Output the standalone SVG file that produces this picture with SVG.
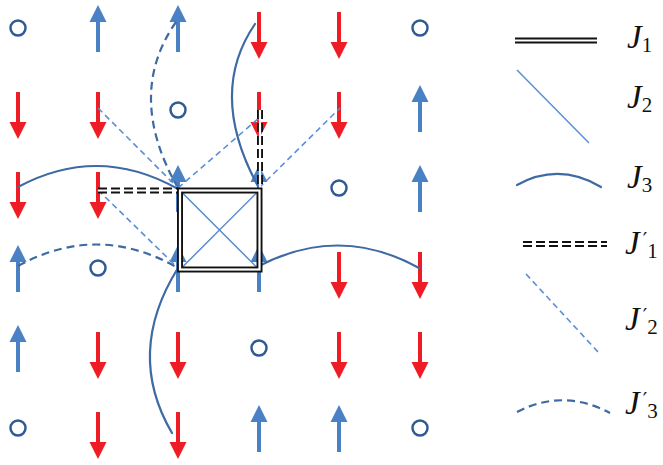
<svg xmlns="http://www.w3.org/2000/svg" width="663" height="465" viewBox="0 0 663 465">
  <style>
    .up { fill: #4a80c4; }
    .dn { fill: #ee1c25; }
    .vac { fill: none; stroke: #2f5a94; stroke-width: 2.5; }
    .j1o { fill: none; stroke: #111; stroke-width: 6; }
    .j1i { fill: none; stroke: #fff; stroke-width: 2.2; }
    .j2 { fill: none; stroke: #5b8fd0; stroke-width: 1.5; }
    .j3 { fill: none; stroke: #3e6aa3; stroke-width: 2.2; stroke-linecap: round; }
    .j1do { fill: none; stroke: #111; stroke-width: 6; stroke-dasharray: 9 4; }
    .j1di { fill: none; stroke: #fff; stroke-width: 2.2; }
    .j2d { fill: none; stroke: #5b8fd6; stroke-width: 1.6; stroke-dasharray: 6 4; }
    .j3d { fill: none; stroke: #3e6aa3; stroke-width: 2.2; stroke-dasharray: 8 5; }
    .lbl { font-family: "Liberation Serif", "DejaVu Serif", serif; font-style: italic; font-size: 33px; fill: #111; }
    .sub { font-style: normal; font-size: 21px; }
    .pr { font-family: "DejaVu Serif", serif; font-style: normal; font-size: 20px; }
  </style>
  <defs>
    <!-- spin up: tip above the site, shaft below -->
    <g id="spinUp" class="up">
      <rect x="-2" y="-7" width="4" height="31"/>
      <polygon points="0,-23 8.5,-6 -8.5,-6"/>
    </g>
    <!-- spin down: shaft above, tip below -->
    <g id="spinDown" class="dn">
      <rect x="-2" y="-16" width="4" height="31"/>
      <polygon points="0,31 8.5,14 -8.5,14"/>
    </g>
    <!-- empty site -->
    <circle id="hole" class="vac" r="7.5"/>
  </defs>

  <rect width="663" height="465" fill="#fff"/>

  <!-- lattice sites: columns 18,98,178,259,339,420; rows 28..428 step 80 -->
  <g id="sites">
    <!-- row 0 -->
    <g id="s00"><use href="#hole" x="18" y="28"/></g>
    <g id="s01"><use href="#spinUp" x="98" y="28"/></g>
    <g id="s02"><use href="#spinUp" x="178" y="28"/></g>
    <g id="s03"><use href="#spinDown" x="259" y="28"/></g>
    <g id="s04"><use href="#spinDown" x="339" y="28"/></g>
    <g id="s05"><use href="#hole" x="420" y="28"/></g>
    <!-- row 1 -->
    <g id="s10"><use href="#spinDown" x="18" y="108"/></g>
    <g id="s11"><use href="#spinDown" x="98" y="108"/></g>
    <g id="s12"><use href="#hole" x="178" y="110"/></g>
    <g id="s13"><use href="#spinDown" x="259" y="108"/></g>
    <g id="s14"><use href="#spinDown" x="339" y="108"/></g>
    <g id="s15"><use href="#spinUp" x="420" y="108"/></g>
    <!-- row 2 -->
    <g id="s20"><use href="#spinDown" x="18" y="188"/></g>
    <g id="s21"><use href="#spinDown" x="98" y="188"/></g>
    <g id="s22"><use href="#spinUp" x="178" y="188"/></g>
    <g id="s23"><use href="#spinUp" x="259" y="188"/></g>
    <g id="s24"><use href="#hole" x="339" y="188"/></g>
    <g id="s25"><use href="#spinUp" x="420" y="188"/></g>
    <!-- row 3 -->
    <g id="s30"><use href="#spinUp" x="18" y="268"/></g>
    <g id="s31"><use href="#hole" x="98" y="268"/></g>
    <g id="s32"><use href="#spinUp" x="178" y="268"/></g>
    <g id="s33"><use href="#spinUp" x="259" y="268"/></g>
    <g id="s34"><use href="#spinDown" x="339" y="268"/></g>
    <g id="s35"><use href="#spinDown" x="420" y="268"/></g>
    <!-- row 4 -->
    <g id="s40"><use href="#spinUp" x="18" y="348"/></g>
    <g id="s41"><use href="#spinDown" x="98" y="348"/></g>
    <g id="s42"><use href="#spinDown" x="178" y="348"/></g>
    <g id="s43"><use href="#hole" x="259" y="348"/></g>
    <g id="s44"><use href="#spinDown" x="339" y="348"/></g>
    <g id="s45"><use href="#spinDown" x="420" y="348"/></g>
    <!-- row 5 -->
    <g id="s50"><use href="#hole" x="18" y="428"/></g>
    <g id="s51"><use href="#spinDown" x="98" y="428"/></g>
    <g id="s52"><use href="#spinDown" x="178" y="428"/></g>
    <g id="s53"><use href="#spinUp" x="259" y="428"/></g>
    <g id="s54"><use href="#spinUp" x="339" y="428"/></g>
    <g id="s55"><use href="#hole" x="420" y="428"/></g>
  </g>

  <!-- couplings between sites -->
  <g id="bonds">
    <!-- J3' : dashed curved third-neighbour bonds -->
    <path class="j3d" d="M176,22 Q125,95 178,188"/>
    <path class="j3d" d="M18,266 Q98,222 178,268"/>
    <!-- J2' : dashed diagonal bonds -->
    <path class="j2d" d="M98,108 L178,188"/>
    <path class="j2d" d="M98,190 L178,268"/>
    <path class="j2d" d="M178,188 L259,118"/>
    <path class="j2d" d="M259,188 L340,108"/>
    <!-- J3 : solid curved bonds -->
    <path class="j3" d="M18,187 Q98,144 178,189"/>
    <path class="j3" d="M255,24 Q207,94 259,188"/>
    <path class="j3" d="M259,266 Q340,224 419,268"/>
    <path class="j3" d="M178,268 Q125,353 172,433"/>
    <!-- J2 : diagonals of the plaquette -->
    <path class="j2" d="M180,190.5 L259,269.5"/>
    <path class="j2" d="M259,190.5 L180,269.5"/>
    <!-- J1' : dashed double bonds -->
    <path class="j1do" d="M98,190.5 H178"/>
    <path class="j1di" d="M98,190.5 H178"/>
    <path class="j1do" d="M260,110 V188"/>
    <path class="j1di" d="M260,110 V188"/>
    <!-- J1 : double-line plaquette -->
    <rect class="j1o" x="180" y="190.5" width="79.5" height="79"/>
    <rect class="j1i" x="180" y="190.5" width="79.5" height="79"/>
  </g>

  <!-- legend -->
  <g id="legend">
    <g id="leg-J1">
      <path class="j1o" d="M515,40.5 H597"/>
      <path class="j1i" d="M515,40.5 H597"/>
      <text class="lbl" x="627" y="48">J<tspan class="sub" dy="4">1</tspan></text>
    </g>
    <g id="leg-J2">
      <path class="j2" d="M517,70 L589,143"/>
      <text class="lbl" x="627" y="108">J<tspan class="sub" dy="4">2</tspan></text>
    </g>
    <g id="leg-J3">
      <path class="j3" d="M517,185 Q559,162 601,187"/>
      <text class="lbl" x="627" y="188">J<tspan class="sub" dy="4">3</tspan></text>
    </g>
    <g id="leg-J1p">
      <path class="j1do" d="M523,244 H607"/>
      <path class="j1di" d="M523,244 H607"/>
      <text class="lbl" x="625" y="254">J<tspan class="pr" dx="3" dy="-7">′</tspan><tspan class="sub" dy="11">1</tspan></text>
    </g>
    <g id="leg-J2p">
      <path class="j2d" d="M526,274 L599,353"/>
      <text class="lbl" x="625" y="330">J<tspan class="pr" dx="3" dy="-7">′</tspan><tspan class="sub" dy="11">2</tspan></text>
    </g>
    <g id="leg-J3p">
      <path class="j3d" d="M517,412 Q563,388 610,413"/>
      <text class="lbl" x="625" y="414">J<tspan class="pr" dx="3" dy="-7">′</tspan><tspan class="sub" dy="11">3</tspan></text>
    </g>
  </g>
</svg>
